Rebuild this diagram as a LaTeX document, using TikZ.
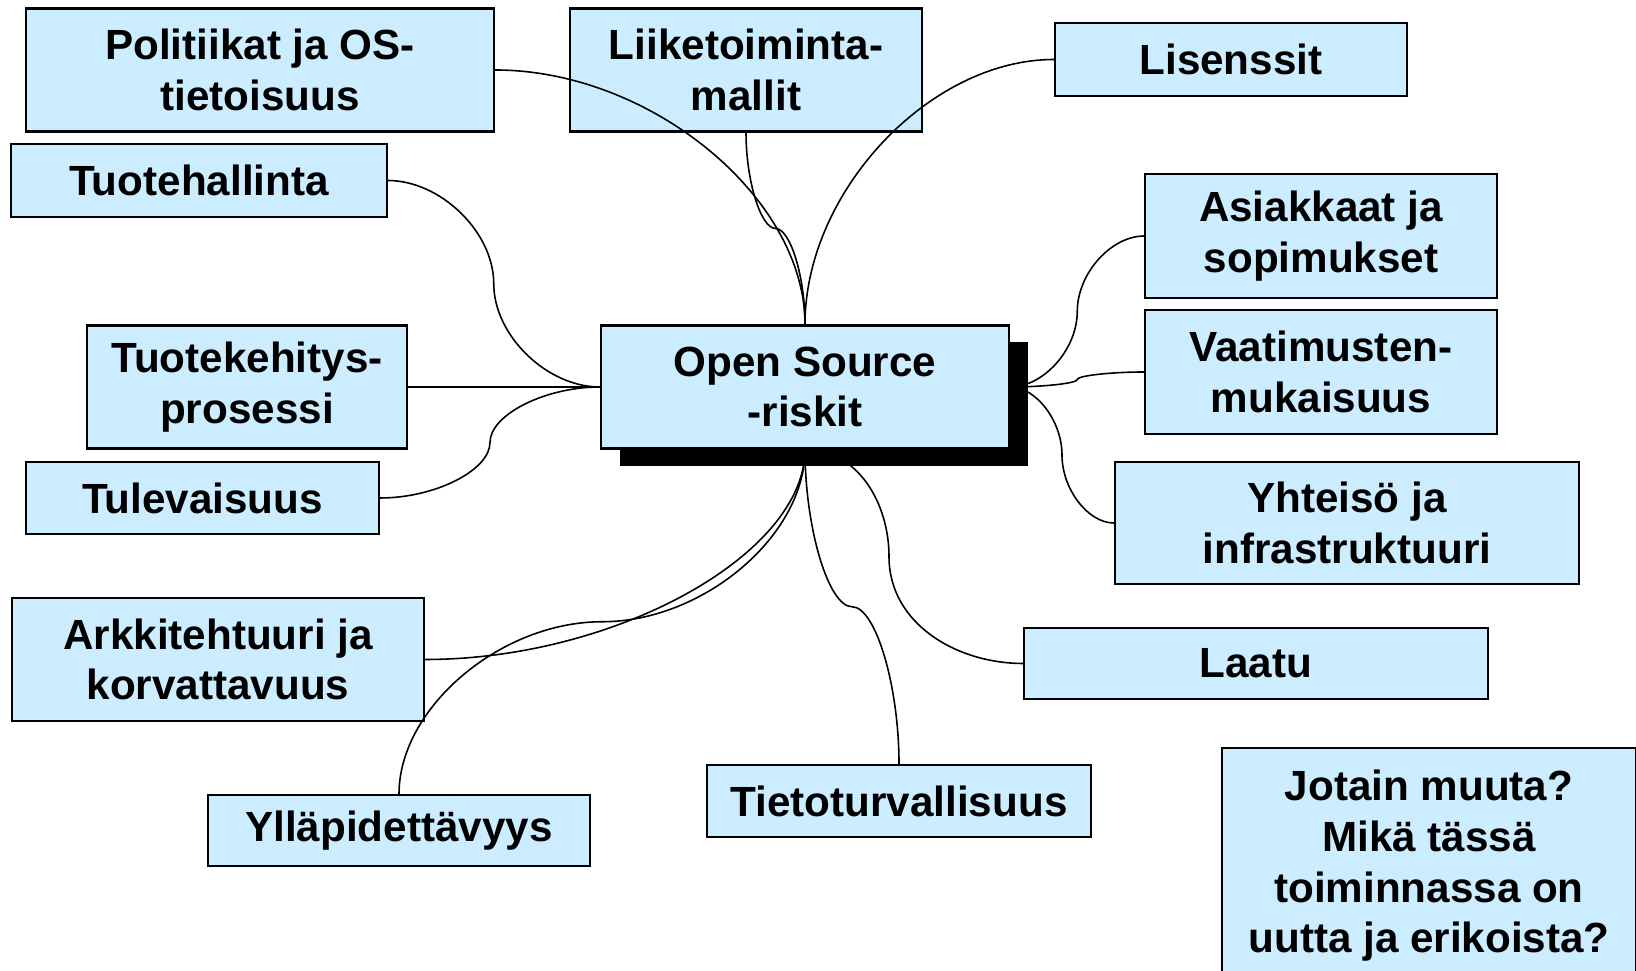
\documentclass[tikz,border=0pt]{standalone}
\usepackage{fontspec}
\setmainfont{Liberation Sans}
\usetikzlibrary{calc,shadows}
\pgfdeclarelayer{front}
\pgfsetlayers{main,front}
\definecolor{boxblue}{HTML}{CCECFF}

\begin{document}
\begin{tikzpicture}[
	x=0.01cm, y=0.01cm,
	topic/.style={
		rectangle,
		draw=black,
		line width=0.6pt,
		align=center,
		fill=boxblue,
		inner sep=0pt,
		font=\bfseries\fontsize{12}{14.4}\selectfont,
		minimum height=1.23cm
	},
	short/.style={
		topic,
		minimum height=0.72cm
	},
	core/.style={
		rectangle,
		draw=black,
		line width=0.6pt,
		align=center,
		fill=boxblue,
		inner sep=0pt,
		font=\bfseries\fontsize{12}{14.4}\selectfont,
		minimum height=1.23cm,
		minimum width=4.08cm,
		drop shadow={shadow xshift=0.19cm, shadow yshift=-0.17cm, fill=black, opacity=1}
	},
	link/.style={
		line width=0.45pt,
		black
	},
	% kaari: vaaka alku, pysty loppu
	hv/.style={to path={let \p1=(\tikztostart), \p2=(\tikztotarget) in
		.. controls ({(\x1+\x2)/2},\y1) and (\x2,{(\y1+\y2)/2}) .. (\tikztotarget)}},
	vh/.style={to path={let \p1=(\tikztostart), \p2=(\tikztotarget) in
		.. controls (\x1,{(\y1+\y2)/2}) and ({(\x1+\x2)/2},\y2) .. (\tikztotarget)}},
	% S-kaaret
	hsh/.style={to path={let \p1=(\tikztostart), \p2=(\tikztotarget) in
		.. controls ({(3*\x1+\x2)/4},\y1) and ({(\x1+\x2)/2},{(3*\y1+\y2)/4}) .. ({(\x1+\x2)/2},{(\y1+\y2)/2})
		.. controls ({(\x1+\x2)/2},{(\y1+3*\y2)/4}) and ({(\x1+3*\x2)/4},\y2) .. (\tikztotarget)}},
	vsv/.style={to path={let \p1=(\tikztostart), \p2=(\tikztotarget) in
		.. controls (\x1,{(3*\y1+\y2)/4}) and ({(3*\x1+\x2)/4},{(\y1+\y2)/2}) .. ({(\x1+\x2)/2},{(\y1+\y2)/2})
		.. controls ({(\x1+3*\x2)/4},{(\y1+\y2)/2}) and (\x2,{(\y1+3*\y2)/4}) .. (\tikztotarget)}},
]
\useasboundingbox (0,0) rectangle (1636,-971);

\node[topic, minimum width=4.68cm] (pol) at (260, -70) {Politiikat ja OS- \\ tietoisuus};
\node[topic, minimum width=3.51cm] (liike) at (746, -70) {Liiketoiminta- \\ mallit};
\node[short, minimum width=3.52cm, minimum height=0.73cm] (lis) at (1231, -59.5) {Lisenssit};
\node[short, minimum width=3.75cm, minimum height=0.73cm] (tuoteh) at (199, -180.5) {Tuotehallinta};

\node[topic, minimum width=3.51cm, minimum height=1.24cm] (asiak) at (1321, -236) {Asiakkaat ja \\ sopimukset};
\node[topic, minimum width=3.51cm, minimum height=1.24cm] (vaat) at (1321, -372) {Vaatimusten- \\ mukaisuus};
\node[topic, minimum width=3.20cm] (tuotek) at (247, -387) {Tuotekehitys- \\ prosessi};
\node[short, minimum width=3.53cm] (tulev) at (202.5, -498) {Tulevaisuus};
\node[topic, minimum width=4.64cm, minimum height=1.22cm] (yht) at (1347, -523) {Yhteisö ja \\ infrastruktuuri};

\node[topic, minimum width=4.12cm] (arkk) at (218, -659.5) {Arkkitehtuuri ja \\ korvattavuus};
\node[short, minimum width=4.63cm, minimum height=0.71cm] (laatu) at (1256, -663.5) {Laatu};
\node[short, minimum width=3.83cm] (tieto) at (899, -801) {Tietoturvallisuus};
\node[short, minimum width=3.81cm, minimum height=0.71cm] (yllap) at (399, -830.5) {Ylläpidettävyys};

\node[topic, minimum width=4.14cm, minimum height=2.36cm] (muuta) at (1429, -866) {Jotain muuta? \\ Mikä tässä \\ toiminnassa on \\ uutta ja erikoista?};

% keskus varjon kanssa paalle
\begin{pgfonlayer}{front}
\node[core] (osr) at (805, -387) {Open Source \\ -riskit};
\end{pgfonlayer}

% ylös
\draw[link] (pol.east) to[hv] (osr.north);
\draw[link] (liike.south) to[vsv] (osr.north);
\draw[link] (lis.west) to[hv] (osr.north);

% vasen
\draw[link] (tuoteh.east) to[hsh] (osr.west);
\draw[link] (tuotek.east) -- (osr.west);
\draw[link] (tulev.east) to[hsh] (osr.west);

% oikea
\draw[link] (osr.east) to[hsh] (asiak.west);
\draw[link] (osr.east) to[hsh] (vaat.west);
\draw[link] (osr.east) to[hsh] (yht.west);

% alas
\draw[link] (osr.south) to[vh] (arkk.east);
\draw[link] (osr.south) to[vsv] (yllap.north);
\draw[link] (osr.south) to[vsv] (tieto.north);
\draw[link] (osr.south) to[out=0, in=90] ($(osr.south)+(84,-107)$) to[out=-90, in=180] (laatu.west);

\end{tikzpicture}
\end{document}
